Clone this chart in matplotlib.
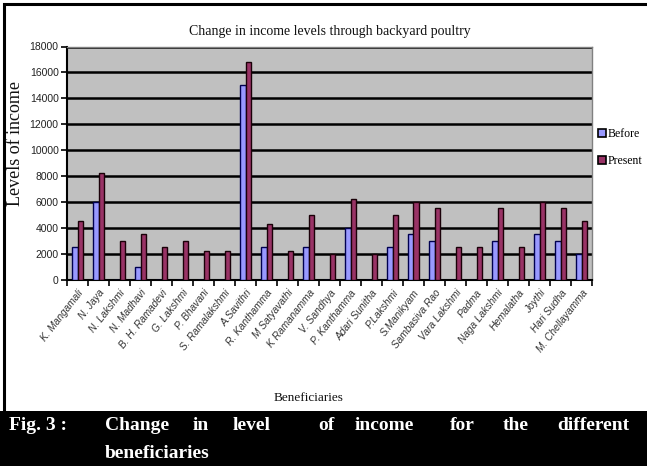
#! /usr/bin/env python3

import numpy as np
import matplotlib
matplotlib.use('Agg')
import matplotlib.pyplot as plt
from matplotlib.patches import Rectangle

# Данные: доход до и после (ведение птицеводства на подворье)
beneficiaries = [
    "K. Mangamali", "N. Jaya", "N. Lakshmi", "N. Madhavi", "B. H. Ramadevi",
    "G. Lakshmi", "P. Bhavani", "S. Ramalakshmi", "A.Savithri", "R. Kanthamma",
    "M Satyavathi", "K Ramanamma", "V. Sandhya", "P. Kanthamma", "Adari Sunitha",
    "P.Lakshmi", "S.Manikyam", "Sambasiva Rao", "Vara Lakshmi", "Padma",
    "Naga Lakshmi", "Hemalatha", "Joythi", "Hari Sudha", "M. Chellayamma",
]
before = [2500, 6000, 0, 1000, 0, 0, 0, 0, 15000, 2500, 0, 2500, 0, 4000, 0,
          2500, 3500, 3000, 0, 0, 3000, 0, 3500, 3000, 2000]
present = [4500, 8200, 3000, 3500, 2500, 3000, 2200, 2200, 16800, 4250, 2200,
           5000, 2000, 6200, 2000, 5000, 6000, 5500, 2500, 2500, 5500, 2500,
           6000, 5500, 4500]
y_ticks = list(range(0, 18001, 2000))

chart_title = "Change in income levels through backyard poultry"
caption_words = ["Fig. 3 :", "Change", "in", "level", "of", "income", "for",
                 "the", "different"]
caption_line2 = "beneficiaries"

W, H = 647, 466


def fx(px):
    return px / W


def fy(py):
    # пиксели сверху -> доля фигуры снизу
    return 1 - py / H


def main():
    fig = plt.figure(figsize=(W / 100, H / 100), dpi=100)
    fig.patch.set_facecolor('white')

    # Область графика (как в Excel)
    ax = fig.add_axes([fx(67), fy(279.5), fx(592 - 67), (279.5 - 46.5) / H])
    ax.set_facecolor('#C0C0C0')

    x = np.arange(len(beneficiaries))
    w = 0.285
    ax.bar(x - w / 2, before, w, color='#9999FF', edgecolor='#000050',
           linewidth=1.0, label='Before', zorder=3)
    ax.bar(x + w / 2, present, w, color='#993366', edgecolor='#1a0008',
           linewidth=1.0, label='Present', zorder=3)

    ax.set_xlim(-0.5, len(beneficiaries) - 0.5)
    ax.set_ylim(0, 18000)
    ax.set_yticks(y_ticks)
    ax.set_yticklabels([str(v) for v in y_ticks], fontsize=7.5,
                       family='Liberation Sans', color='#222222')
    ax.yaxis.grid(True, color='black', linewidth=1.8, zorder=1)
    ax.set_axisbelow(True)
    ax.tick_params(axis='y', direction='out', length=4, width=1.2,
                   color='black', pad=2)

    # Подписи категорий по центру, засечки между категориями
    ax.set_xticks(x)
    ax.set_xticklabels(beneficiaries, rotation=52, ha='right',
                       rotation_mode='anchor', fontsize=7.3, style='italic',
                       family='Liberation Sans', color='#333333')
    ax.tick_params(axis='x', which='major', length=0, pad=6)
    ax.set_xticks(np.arange(-0.5, len(beneficiaries)), minor=True)
    ax.tick_params(axis='x', which='minor', direction='out', length=4,
                   width=1.2, color='black')

    for side in ('left', 'bottom'):
        ax.spines[side].set_color('black')
        ax.spines[side].set_linewidth(1.5)
    for side in ('top', 'right'):
        ax.spines[side].set_color('#808080')
        ax.spines[side].set_linewidth(1.0)

    # Тексты
    fig.text(fx(330), fy(31), chart_title, ha='center', va='center',
             fontsize=10, family='Liberation Serif', color='#111111')
    fig.text(fx(16), fy(143), "Levels of income", rotation=90,
             ha='center', va='center', fontsize=13,
             family='Liberation Serif', color='#111111')
    fig.text(fx(309), fy(398), "Beneficiaries", ha='center', va='center',
             fontsize=9.5, family='Liberation Serif', color='#111111')

    # Легенда справа от области графика
    handles = [Rectangle((0, 0), 1, 1, fc='#9999FF', ec='black', lw=1.2),
               Rectangle((0, 0), 1, 1, fc='#993366', ec='black', lw=1.2)]
    fig.legend(handles, ['Before', 'Present'], loc='upper left',
               bbox_to_anchor=(fx(598), fy(128)), frameon=False,
               prop={'family': 'Liberation Serif', 'size': 8.5},
               handlelength=0.65, handleheight=0.65, handletextpad=0.2,
               labelspacing=1.3, borderaxespad=0, borderpad=0)

    # Рамка и чёрная подпись рисунка
    fig.patches.append(Rectangle((fx(4), fy(466)), 1.05, fy(4) - fy(466),
                                 transform=fig.transFigure, fill=False,
                                 ec='black', lw=2.2))
    fig.patches.append(Rectangle((0, 0), 1, fy(411), transform=fig.transFigure,
                                 fc='black', ec='none'))

    cap_x = [9, 105, 193, 233, 318, 355, 450, 503, 557]
    for word, px in zip(caption_words, cap_x):
        fig.text(fx(px), fy(426), word, ha='left', va='center', fontsize=14,
                 fontweight='bold', family='Liberation Serif', color='white')
    fig.text(fx(105), fy(453), caption_line2, ha='left', va='center',
             fontsize=14, fontweight='bold', family='Liberation Serif',
             color='white')

    fig.savefig('out.png', dpi=100)


if __name__ == '__main__':
    main()
